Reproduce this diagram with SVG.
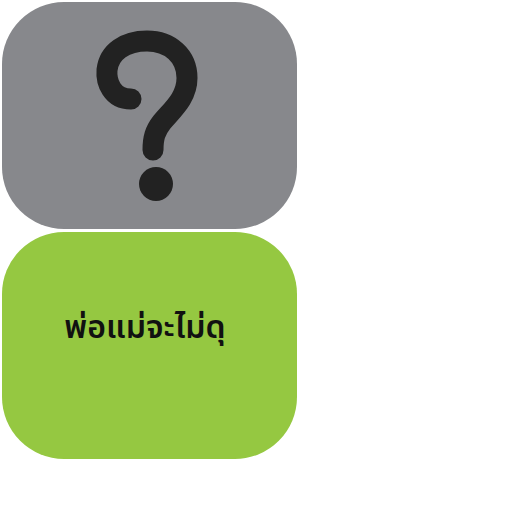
<svg xmlns="http://www.w3.org/2000/svg" width="512" height="512" viewBox="0 0 512 512">
<style>
.box{stroke:none}
.lbl{font-family:"Noto Sans Thai","Noto Sans","DejaVu Sans",sans-serif;font-size:32px;font-weight:600;fill:#111;text-anchor:middle}
</style>
<rect width="512" height="512" fill="#fff"/>
<g id="node-question">
<rect class="box" x="2" y="2" width="295" height="227" rx="62" ry="62" fill="#87888c"/>
<path d="M131 99 C112 99 106 82 107 70 C109 52 125 41 147 41 C170 41 187 56 187 78 C187 98 172 110 162 122 C155 131 153 138 153 150" fill="none" stroke="#222" stroke-width="21" stroke-linecap="round" stroke-linejoin="round"/>
<circle cx="156" cy="184" r="17" fill="#222"/>
</g>
<g id="node-answer">
<rect class="box" x="2" y="232" width="295" height="227" rx="62" ry="62" fill="#95c841"/>
<text class="lbl" x="145" y="338">พ่อแม่จะไม่ดุ</text>
</g>
<g id="connectors"></g>
</svg>
